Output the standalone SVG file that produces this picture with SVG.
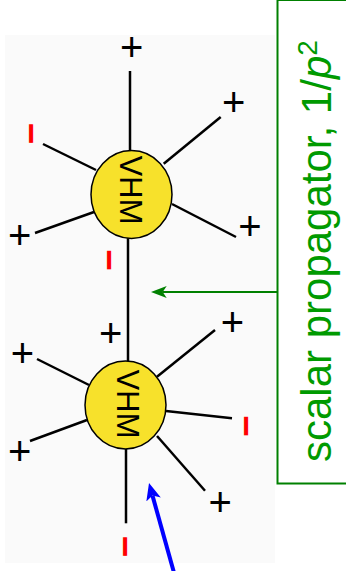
<svg xmlns="http://www.w3.org/2000/svg" width="346" height="571" viewBox="0 0 346 571">
  <style>
    .leg { stroke: #000; stroke-width: 2.5; fill: none; }
    .vertex { fill: #f7e12b; stroke: #000; stroke-width: 1.5; }
    .vlabel { font-family: "Liberation Sans", Arial, sans-serif; font-size: 31px; fill: #000; text-anchor: middle; }
    .plus { font-family: "Liberation Sans", Arial, sans-serif; font-size: 40px; fill: #000; text-anchor: middle; dominant-baseline: central; }
    .minus { font-family: "Liberation Sans", Arial, sans-serif; font-size: 37px; font-weight: bold; fill: #ff0000; text-anchor: middle; dominant-baseline: central; }
    .prop-label { font-family: "Liberation Sans", Arial, sans-serif; font-size: 42px; fill: #009a00; }
  </style>
  <defs>
    <marker id="head-green" markerUnits="userSpaceOnUse" markerWidth="16" markerHeight="12" refX="4" refY="6" orient="auto" viewBox="0 0 16 12">
      <path d="M0,0 L16,6 L0,12 L4,6 Z" fill="#008000"/>
    </marker>
    <marker id="head-blue" markerUnits="userSpaceOnUse" markerWidth="17" markerHeight="15" refX="4" refY="7.5" orient="auto" viewBox="0 0 17 15">
      <path d="M0,0 L17,7.5 L0,15 L4,7.5 Z" fill="#0000ff"/>
    </marker>
  </defs>

  <!-- light backdrop behind the diagram -->
  <rect x="5" y="35" width="270" height="528" fill="#fafafa"/>

  <!-- propagator and external legs -->
  <g id="connectors">
    <!-- scalar propagator between the two vertices -->
    <line class="leg" x1="128" y1="238" x2="128" y2="361"/>
    <!-- upper vertex legs -->
    <line class="leg" x1="130" y1="71" x2="130" y2="150"/>
    <line class="leg" x1="163.7" y1="163.7" x2="220.7" y2="117"/>
    <line class="leg" x1="172" y1="204" x2="236" y2="237"/>
    <line class="leg" x1="43" y1="144" x2="96" y2="170"/>
    <line class="leg" x1="35" y1="233" x2="94" y2="212"/>
    <!-- lower vertex legs -->
    <line class="leg" x1="37" y1="359" x2="89" y2="385"/>
    <line class="leg" x1="157" y1="376.7" x2="215" y2="330"/>
    <line class="leg" x1="30" y1="441" x2="87" y2="420"/>
    <line class="leg" x1="166" y1="411" x2="232" y2="418.3"/>
    <line class="leg" x1="157" y1="436" x2="205" y2="490.7"/>
    <line class="leg" x1="126" y1="449" x2="126" y2="523.3"/>
  </g>

  <g id="vertex-upper">
    <ellipse class="vertex" cx="131.5" cy="194.5" rx="40.5" ry="44"/>
    <text class="vlabel" transform="translate(120,190) rotate(90) scale(-1,1)">MHV</text>
  </g>

  <g id="vertex-lower">
    <ellipse class="vertex" cx="125.5" cy="405" rx="40.5" ry="44"/>
    <text class="vlabel" transform="translate(116.5,404) rotate(90) scale(-1,1)">MHV</text>
  </g>

  <!-- helicity labels on the external legs -->
  <g id="helicities">
    <text class="plus" x="131.7" y="46.7">+</text>
    <text class="plus" x="233.7" y="102">+</text>
    <text class="plus" x="250" y="226">+</text>
    <text class="plus" x="19.7" y="234.5">+</text>
    <text class="plus" x="110.7" y="333">+</text>
    <text class="plus" x="22.5" y="352.7">+</text>
    <text class="plus" x="232.5" y="321.7">+</text>
    <text class="plus" x="19.7" y="451">+</text>
    <text class="plus" x="220.3" y="502.3">+</text>
    <text class="minus" transform="translate(31,133.5) rotate(90)">−</text>
    <text class="minus" transform="translate(109.2,260) rotate(90)">−</text>
    <text class="minus" transform="translate(246,426) rotate(90)">−</text>
    <text class="minus" transform="translate(125,546.5) rotate(90)">−</text>
  </g>

  <!-- annotation box with pointer to the propagator -->
  <g id="propagator-note">
    <rect x="277.5" y="0" width="90" height="483.5" fill="none" stroke="#008000" stroke-width="2"/>
    <text class="prop-label" transform="translate(331,462) rotate(-90)">scalar propagator, 1/<tspan font-style="italic">p</tspan><tspan font-size="28" dy="-14">2</tspan></text>
    <line x1="277.5" y1="292" x2="162.7" y2="292" stroke="#008000" stroke-width="2" marker-end="url(#head-green)"/>
  </g>

  <!-- pointer to the lower vertex -->
  <g id="pointer-blue">
    <line x1="173.8" y1="572" x2="152.5" y2="495.6" stroke="#0000ff" stroke-width="4" marker-end="url(#head-blue)"/>
  </g>
</svg>
